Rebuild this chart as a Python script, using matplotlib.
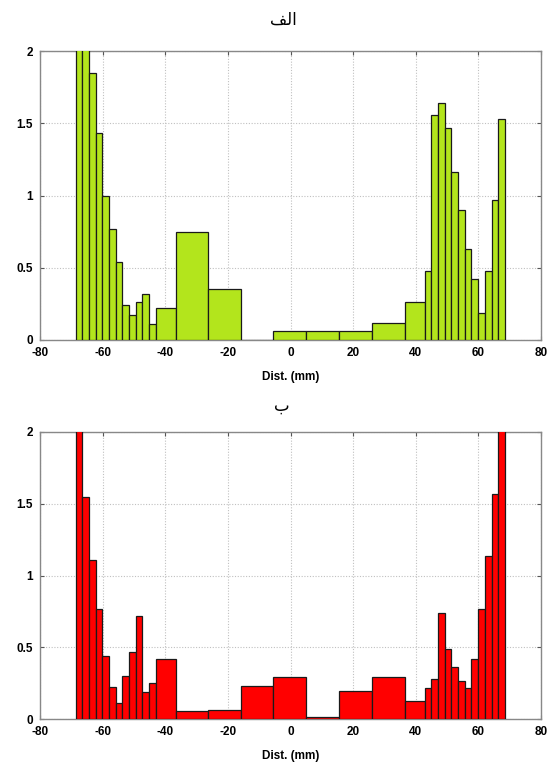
import numpy as np
import matplotlib
matplotlib.use("Agg")
import matplotlib.pyplot as plt

plt.rcParams["axes.unicode_minus"] = False

# ---- data ----
bin_edges = [-68.6, -66.5, -64.3, -62.2, -60.1, -57.9, -55.8, -53.7, -51.6, -49.4,
             -47.3, -45.2, -43.0, -36.7, -26.3, -15.9, -5.5, 5.0, 15.4, 25.9,
             36.5, 42.9, 45.0, 47.2, 49.3, 51.4, 53.6, 55.7, 57.8, 59.9,
             62.1, 64.2, 66.4, 68.5]

heights_top = [2.2, 2.05, 1.85, 1.43, 1.00, 0.77, 0.54, 0.24, 0.17, 0.26,
               0.32, 0.11, 0.22, 0.75, 0.35, 0.0, 0.06, 0.06, 0.06, 0.115,
               0.265, 0.48, 1.56, 1.64, 1.47, 1.16, 0.90, 0.63, 0.42, 0.19,
               0.48, 0.97, 1.53]

heights_bottom = [2.2, 1.55, 1.11, 0.77, 0.44, 0.22, 0.11, 0.30, 0.47, 0.72,
                  0.19, 0.25, 0.42, 0.055, 0.065, 0.23, 0.295, 0.012, 0.195, 0.295,
                  0.125, 0.215, 0.28, 0.74, 0.49, 0.36, 0.265, 0.215, 0.42, 0.77,
                  1.135, 1.57, 2.2]

title_top = "الف"
title_bottom = "ب"
xlabel = "Dist. (mm)"
xticks = [-80, -60, -40, -20, 0, 20, 40, 60, 80]
yticks = [0, 0.5, 1, 1.5, 2]
ytick_labels = ["0", "0.5", "1", "1.5", "2"]

color_top = "#b3e51c"
color_bottom = "#ff0000"


def shape_arabic(s):
    # minimal contextual shaping to presentation forms, output in visual order
    forms = {
        "ا": ("\uFE8D", "\uFE8E", None, None),
        "ل": ("\uFEDD", "\uFEDE", "\uFEDF", "\uFEE0"),
        "ف": ("\uFED1", "\uFED2", "\uFED3", "\uFED4"),
        "ب": ("\uFE8F", "\uFE90", "\uFE91", "\uFE92"),
    }
    non_joining_left = {"ا"}
    out = []
    n = len(s)
    for i, ch in enumerate(s):
        if ch not in forms:
            out.append(ch)
            continue
        prev_joins = i > 0 and s[i - 1] in forms and s[i - 1] not in non_joining_left
        next_joins = i < n - 1 and s[i + 1] in forms and ch not in non_joining_left
        iso, fin, ini, med = forms[ch]
        if prev_joins and next_joins and med:
            g = med
        elif prev_joins:
            g = fin
        elif next_joins and ini:
            g = ini
        else:
            g = iso
        out.append(g)
    return "".join(reversed(out))


fig = plt.figure(figsize=(5.54, 7.65), dpi=100)
W, H = 554.0, 765.0

axes_specs = [
    ([40 / W, 1 - 340 / H, 501 / W, 289 / H], heights_top, color_top),
    ([40 / W, 1 - 719 / H, 501 / W, 287 / H], heights_bottom, color_bottom),
]

edges = np.array(bin_edges)
widths = np.diff(edges)

for rect, heights, col in axes_specs:
    ax = fig.add_axes(rect)
    ax.bar(edges[:-1], heights, width=widths, align="edge", color=col,
           edgecolor="#1a1a1a", linewidth=0.9, zorder=3)
    ax.set_xlim(-80, 80)
    ax.set_ylim(0, 2)
    ax.set_xticks(xticks)
    ax.set_xticklabels([str(t) for t in xticks])
    ax.set_yticks(yticks)
    ax.set_yticklabels(ytick_labels)
    ax.grid(True, linestyle=(0, (1, 1.5)), color="#c0c0c0", linewidth=0.8, zorder=0)
    ax.tick_params(direction="in", top=True, right=True, length=3, width=0.8,
                   color="#555555", labelsize=8.5, pad=5)
    for lab in ax.get_xticklabels() + ax.get_yticklabels():
        lab.set_fontweight("bold")
        lab.set_fontfamily("Liberation Sans")
    for sp in ax.spines.values():
        sp.set_color("#888888")
        sp.set_linewidth(1.0)
    ax.set_xlabel(xlabel, fontsize=8.5, fontweight="bold", family="Liberation Sans", labelpad=9)

fig.text(283 / W, 1 - 20 / H, shape_arabic(title_top), ha="center", va="center",
         fontsize=12, family=["DejaVu Sans"])
fig.text(282 / W, 1 - 406 / H, shape_arabic(title_bottom), ha="center", va="center",
         fontsize=12, family=["DejaVu Sans"])

fig.savefig("out.png", dpi=100, facecolor="white")
